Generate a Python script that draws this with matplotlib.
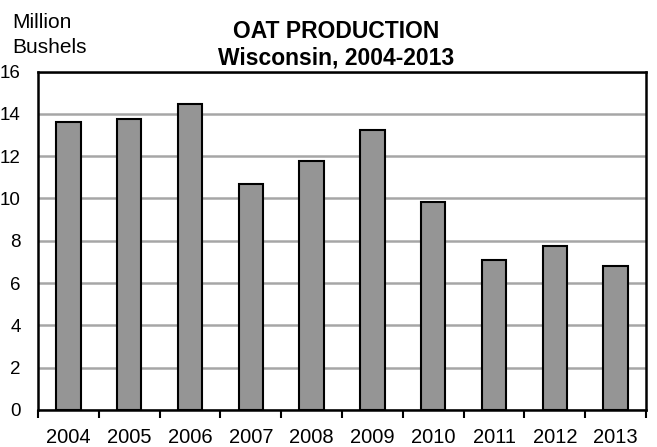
import matplotlib.pyplot as plt
import numpy as np

plt.rcParams['font.family'] = ['Liberation Sans', 'DejaVu Sans']

# Oat production, million bushels
years = ['2004', '2005', '2006', '2007', '2008', '2009', '2010', '2011', '2012', '2013']
production = [13.63, 13.76, 14.48, 10.70, 11.77, 13.24, 9.83, 7.08, 7.77, 6.81]
y_ticks = [0, 2, 4, 6, 8, 10, 12, 14, 16]

fig = plt.figure(figsize=(6.57, 4.47), dpi=100)
ax = fig.add_axes([38 / 657, 1 - 410 / 447, 608 / 657, 338.5 / 447])

x = np.arange(len(years))
ax.bar(x, production, width=0.4, color='#959595', edgecolor='black', linewidth=1.5, zorder=3)

ax.set_xlim(-0.5, len(years) - 0.5)
ax.set_ylim(0, 16)
ax.set_yticks(y_ticks)
ax.set_yticklabels([str(v) for v in y_ticks], fontsize=13.5)
ax.tick_params(axis='y', length=0, pad=12.5)
ax.yaxis.grid(True, color='#a6a6a6', linewidth=1.8, zorder=0)

# year labels centered under bars, tick marks at category boundaries
ax.set_xticks(x)
ax.set_xticklabels(years, fontsize=14.5)
ax.tick_params(axis='x', which='major', length=0, pad=13)
ax.set_xticks(np.arange(-0.5, len(years)), minor=True)
ax.tick_params(axis='x', which='minor', length=6, width=1.5, direction='out')

for s in ax.spines.values():
    s.set_linewidth(1.8)
    s.set_color('black')

fig.text(336 / 657, 1 - 37.7 / 447, 'OAT PRODUCTION', ha='center', va='baseline',
         fontsize=16.5, fontweight='bold')
fig.text(336 / 657, 1 - 64.3 / 447, 'Wisconsin, 2004-2013', ha='center', va='baseline',
         fontsize=16.5, fontweight='bold')
fig.text(12 / 657, 1 - 27.5 / 447, 'Million', ha='left', va='baseline', fontsize=15)
fig.text(12 / 657, 1 - 53 / 447, 'Bushels', ha='left', va='baseline', fontsize=15)

fig.savefig('out.png', dpi=100)
